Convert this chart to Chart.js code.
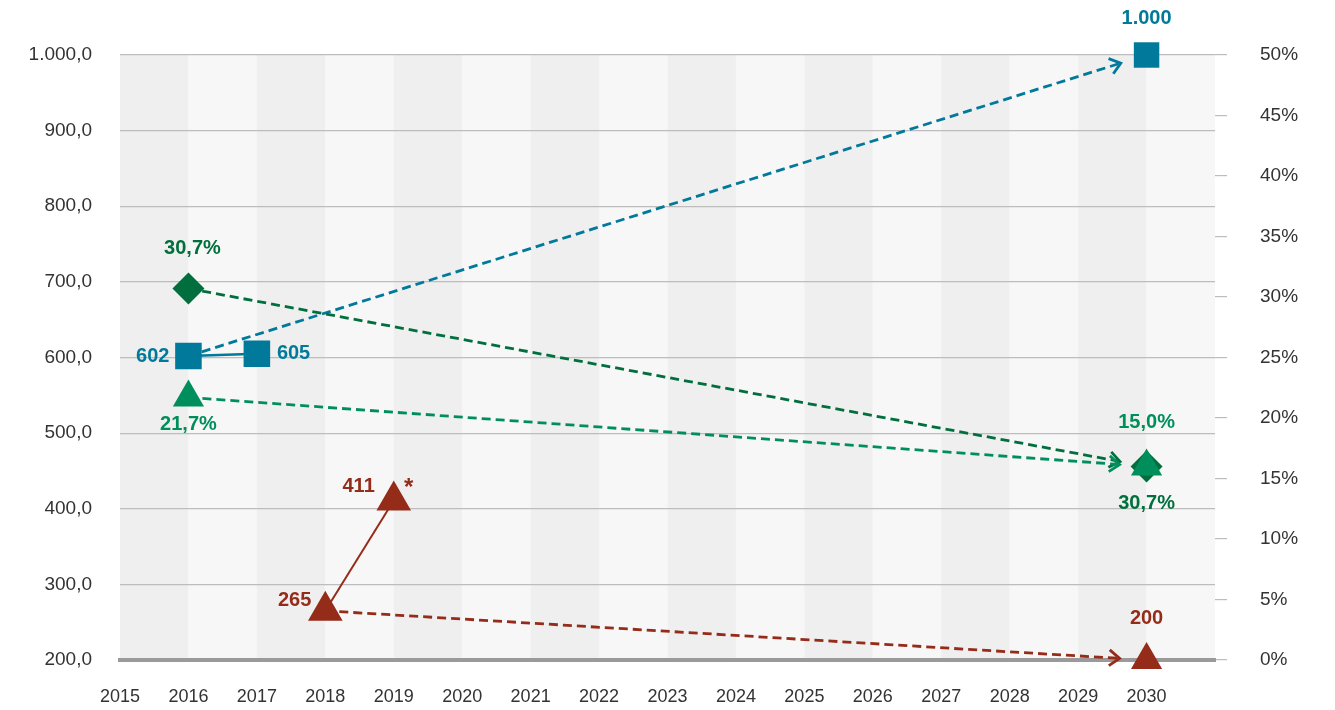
<!DOCTYPE html>
<html>
<head>
<meta charset="utf-8">
<script src="https://cdn.jsdelivr.net/npm/chart.js@4"></script>
<style>
  html, body { margin: 0; padding: 0; background: #fff; }
  #wrap { width: 1335px; height: 710px; }
</style>
</head>
<body>
<div id="wrap"><canvas id="mainChart" width="1335" height="710"></canvas></div>
<script>
// --- data ---
var yearTicks = [2015, 2016, 2017, 2018, 2019, 2020, 2021, 2022, 2023, 2024, 2025, 2026, 2027, 2028, 2029, 2030];

var blueYears = [2016, 2017, 2030];
var blueValues = [602, 605, 1000];
var blueLabels = ["602", "605", "1.000"];

var redYears = [2018, 2019, 2030];
var redValues = [265, 411, 200];
var redLabels = ["265", "411", "200"];

var darkGreenYears = [2016, 2030];
var darkGreenShares = [30.7, 16.0];
var darkGreenLabels = ["30,7%", "30,7%"];

var lightGreenYears = [2016, 2030];
var lightGreenShares = [21.7, 16.0];
var lightGreenLabels = ["21,7%", "15,0%"];

var leftTicks = [200, 300, 400, 500, 600, 700, 800, 900, 1000];
var rightTicks = [0, 5, 10, 15, 20, 25, 30, 35, 40, 45, 50];

var BLUE = "#00799a";
var RED = "#952c1a";
var DGREEN = "#006f3d";
var LGREEN = "#008f5c";
var FONT = "'Liberation Sans Narrow', 'Liberation Sans', Arial, sans-serif";

function pts(xs, ys) {
    return xs.map(function(x, i) { return { x: x, y: ys[i] }; });
}

function fmtLeft(v) {
    var s = String(Math.round(v));
    if (s.length > 3) s = s.slice(0, s.length - 3) + "." + s.slice(-3);
    return s + ",0";
}

// alternating year columns behind the grid
var bandsPlugin = {
    id: "bands",
    beforeDraw: function(chart) {
        var ctx = chart.ctx, a = chart.chartArea, xs = chart.scales.x;
        ctx.save();
        for (var yr = xs.min; yr < xs.max; yr++) {
            var x0 = xs.getPixelForValue(yr), x1 = xs.getPixelForValue(yr + 1);
            ctx.fillStyle = (yr % 2 === 1) ? "#efefef" : "#f7f7f7";
            ctx.fillRect(x0, a.top, x1 - x0, a.bottom - a.top);
        }
        ctx.restore();
    }
};

// dashed arrows: [years, values, axis, color, fromIndex, toIndex]
var arrowDefs = [
    [blueYears, blueValues, "y", BLUE, 0, 2],
    [redYears, redValues, "y", RED, 0, 2],
    [darkGreenYears, darkGreenShares, "y2", DGREEN, 0, 1],
    [lightGreenYears, lightGreenShares, "y2", LGREEN, 0, 1]
];

var arrowPlugin = {
    id: "arrows",
    beforeDatasetsDraw: function(chart) {
        var ctx = chart.ctx, xs = chart.scales.x;
        ctx.save();
        arrowDefs.forEach(function(d) {
            var ys = chart.scales[d[2]];
            var x0 = xs.getPixelForValue(d[0][d[4]]), y0 = ys.getPixelForValue(d[1][d[4]]);
            var x1 = xs.getPixelForValue(d[0][d[5]]), y1 = ys.getPixelForValue(d[1][d[5]]);
            var len = Math.hypot(x1 - x0, y1 - y0);
            var ux = (x1 - x0) / len, uy = (y1 - y0) / len;
            var tx = x1 - ux * 27, ty = y1 - uy * 27;
            ctx.strokeStyle = d[3];
            ctx.lineWidth = 2.8;
            ctx.setLineDash([9, 5]);
            ctx.beginPath();
            ctx.moveTo(x0, y0);
            ctx.lineTo(tx - ux * 2, ty - uy * 2);
            ctx.stroke();
            ctx.setLineDash([]);
            var ang = Math.atan2(uy, ux), arm = 13, spread = 0.65;
            ctx.beginPath();
            ctx.moveTo(tx - arm * Math.cos(ang - spread), ty - arm * Math.sin(ang - spread));
            ctx.lineTo(tx, ty);
            ctx.lineTo(tx - arm * Math.cos(ang + spread), ty - arm * Math.sin(ang + spread));
            ctx.stroke();
        });
        ctx.restore();
    }
};

// value labels: [years, values, labels, axis, color, offsets[[dx,dy,align]]]
var labelDefs = [
    [blueYears, blueValues, blueLabels, "y", BLUE, [[-19, 0, "right"], [20, 0, "left"], [0, -37, "center"]]],
    [redYears, redValues, redLabels, "y", RED, [[-14, -10, "right"], [-19, -14, "right"], [0, -42, "center"]]],
    [darkGreenYears, darkGreenShares, darkGreenLabels, "y2", DGREEN, [[4, -40, "center"], [0, 37, "center"]]],
    [lightGreenYears, lightGreenShares, lightGreenLabels, "y2", LGREEN, [[0, 27, "center"], [0, -44, "center"]]]
];

var labelPlugin = {
    id: "valueLabels",
    afterDatasetsDraw: function(chart) {
        var ctx = chart.ctx, xs = chart.scales.x;
        ctx.save();
        ctx.font = "bold 20px " + FONT;
        ctx.textBaseline = "middle";
        labelDefs.forEach(function(d) {
            var ys = chart.scales[d[3]];
            ctx.fillStyle = d[4];
            d[0].forEach(function(yr, i) {
                var o = d[5][i];
                ctx.textAlign = o[2];
                ctx.fillText(d[2][i], xs.getPixelForValue(yr) + o[0], ys.getPixelForValue(d[1][i]) + o[1]);
            });
        });
        // asterisk next to 2019 value
        ctx.fillStyle = RED;
        ctx.font = "bold 24px " + FONT;
        ctx.textAlign = "center";
        ctx.fillText("*", xs.getPixelForValue(redYears[1]) + 15, chart.scales.y.getPixelForValue(redValues[1]) - 12);
        ctx.restore();
    }
};

var ctxMain = document.getElementById("mainChart");

var mainChart = new Chart(ctxMain, {
    type: "scatter",
    data: {
        datasets: [
            {
                label: "lightGreen",
                data: pts(lightGreenYears, lightGreenShares),
                yAxisID: "y2",
                pointStyle: "triangle",
                pointRadius: 18,
                backgroundColor: LGREEN,
                borderColor: LGREEN,
                borderWidth: 0,
                showLine: false,
                clip: false,
                order: 0
            },
            {
                label: "darkGreen",
                data: pts(darkGreenYears, darkGreenShares),
                yAxisID: "y2",
                pointStyle: "rectRot",
                pointRadius: 16,
                backgroundColor: DGREEN,
                borderColor: DGREEN,
                borderWidth: 0,
                showLine: false,
                clip: false,
                order: 1
            },
            {
                label: "blueSolid",
                data: pts(blueYears.slice(0, 2), blueValues.slice(0, 2)),
                yAxisID: "y",
                pointStyle: "rect",
                pointRadius: 17,
                backgroundColor: BLUE,
                borderColor: BLUE,
                borderWidth: 2.5,
                showLine: true,
                clip: false,
                order: 2
            },
            {
                label: "blueTarget",
                data: pts(blueYears.slice(2), blueValues.slice(2)),
                yAxisID: "y",
                pointStyle: "rect",
                pointRadius: 18,
                backgroundColor: BLUE,
                borderColor: BLUE,
                borderWidth: 0,
                showLine: false,
                clip: false,
                order: 3
            },
            {
                label: "redSolid",
                data: pts(redYears.slice(0, 2), redValues.slice(0, 2)),
                yAxisID: "y",
                pointStyle: "triangle",
                pointRadius: 18,
                backgroundColor: RED,
                borderColor: RED,
                borderWidth: 2,
                showLine: true,
                clip: false,
                order: 4
            },
            {
                label: "redTarget",
                data: pts(redYears.slice(2), redValues.slice(2)),
                yAxisID: "y",
                pointStyle: "triangle",
                pointRadius: 18,
                backgroundColor: RED,
                borderColor: RED,
                borderWidth: 0,
                showLine: false,
                clip: false,
                order: 5
            }
        ]
    },
    plugins: [bandsPlugin, arrowPlugin, labelPlugin],
    options: {
        responsive: false,
        animation: false,
        layout: { padding: { top: 55, right: 0, bottom: 0, left: 0 } },
        plugins: {
            legend: { display: false },
            tooltip: { enabled: false }
        },
        scales: {
            x: {
                type: "linear",
                min: yearTicks[0],
                max: yearTicks[yearTicks.length - 1] + 1,
                afterBuildTicks: function(scale) {
                    scale.ticks = yearTicks.map(function(v) { return { value: v }; });
                },
                afterFit: function(scale) { scale.height = 50; },
                grid: { display: false, drawTicks: false },
                border: { display: true, color: "#9a9a9a", width: 4 },
                ticks: {
                    padding: 26,
                    color: "#333",
                    font: { family: FONT, size: 18 },
                    maxRotation: 0,
                    autoSkip: false,
                    callback: function(v) { return String(v); }
                }
            },
            y: {
                position: "left",
                min: leftTicks[0],
                max: leftTicks[leftTicks.length - 1],
                afterBuildTicks: function(scale) {
                    scale.ticks = leftTicks.map(function(v) { return { value: v }; });
                },
                afterFit: function(scale) { scale.width = 120; },
                grid: { color: "#bdbdbd", lineWidth: 1.2, drawTicks: false },
                border: { display: false },
                ticks: {
                    padding: 28,
                    color: "#333",
                    font: { family: FONT, size: 19 },
                    callback: function(v) { return fmtLeft(v); }
                }
            },
            y2: {
                position: "right",
                min: rightTicks[0],
                max: rightTicks[rightTicks.length - 1],
                afterBuildTicks: function(scale) {
                    scale.ticks = rightTicks.map(function(v) { return { value: v }; });
                },
                afterFit: function(scale) { scale.width = 120; },
                grid: { drawOnChartArea: false, drawTicks: true, tickLength: 12, color: "#bdbdbd", lineWidth: 1.2 },
                border: { display: false },
                ticks: {
                    padding: 33,
                    color: "#333",
                    font: { family: FONT, size: 19 },
                    callback: function(v) { return v + "%"; }
                }
            }
        }
    }
});
</script>
</body>
</html>
